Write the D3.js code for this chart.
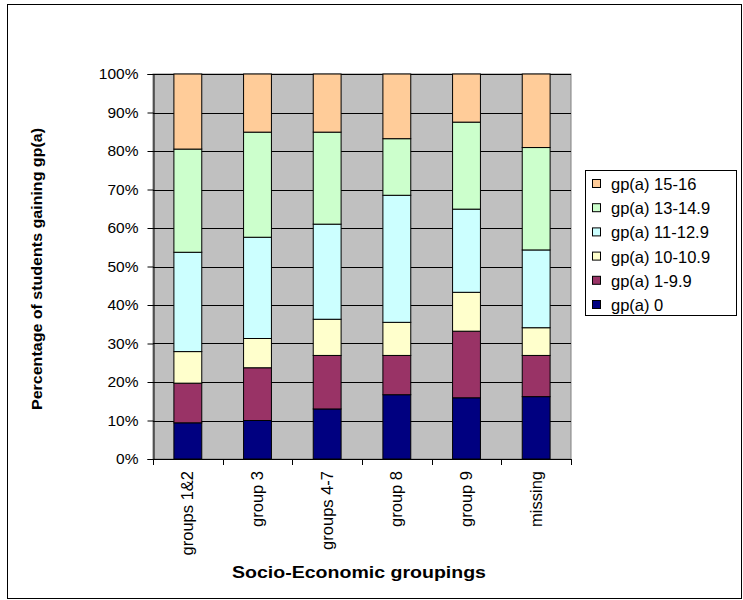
<!DOCTYPE html>
<html>
<head>
<meta charset="utf-8">
<script src="https://cdn.jsdelivr.net/npm/d3@7"></script>
<style>
  body { margin: 0; background: #fff; }
  text { font-family: Arial, "Liberation Sans", sans-serif; fill: #000; }
</style>
</head>
<body>
<div id="chart"></div>
<script>
var width = 743,
    height = 600;

// categories along the x axis
var categories = ["groups 1&2", "group 3", "groups 4-7", "group 8", "group 9", "missing"];

// series, bottom to top (percent of students)
var seriesNames = ["gp(a) 0", "gp(a) 1-9.9", "gp(a) 10-10.9", "gp(a) 11-12.9", "gp(a) 13-14.9", "gp(a) 15-16"];
var gp0      = [9.4, 10.0, 13.0, 16.7, 15.9, 16.2];
var gp1to9   = [10.3, 13.7, 13.9, 10.2, 17.3, 10.7];
var gp10     = [8.2, 7.6, 9.4, 8.6, 10.1, 7.2];
var gp11to12 = [25.8, 26.3, 24.7, 33.0, 21.6, 20.2];
var gp13to14 = [26.8, 27.3, 23.9, 14.7, 22.6, 26.6];
var gp15to16 = [19.5, 15.1, 15.1, 16.8, 12.5, 19.1];

var yTicks = [0, 0.1, 0.2, 0.3, 0.4, 0.5, 0.6, 0.7, 0.8, 0.9, 1];

var seriesColors = ["#000080", "#993366", "#FFFFCC", "#CCFFFF", "#CCFFCC", "#FFCC99"];

var seriesValues = [gp0, gp1to9, gp10, gp11to12, gp13to14, gp15to16];

// table for d3.stack
var rows = categories.map(function (c, i) {
    var r = { category: c };
    seriesNames.forEach(function (s, j) { r[s] = seriesValues[j][i]; });
    return r;
});

var stacked = d3.stack()
    .keys(seriesNames)
    .offset(d3.stackOffsetExpand)(rows);

var plot = { left: 153, right: 571, top: 74, bottom: 459 };

var x = d3.scaleBand()
    .domain(categories)
    .range([plot.left, plot.right])
    .paddingInner(0.6)
    .paddingOuter(0.3);

var y = d3.scaleLinear()
    .domain([0, 1])
    .range([plot.bottom, plot.top]);

var svg = d3.select("#chart").append("svg")
    .attr("width", width)
    .attr("height", height);

// outer frame
svg.append("rect")
    .attr("x", 7.5).attr("y", 4.5)
    .attr("width", 734).attr("height", 594)
    .attr("fill", "#fff")
    .attr("stroke", "#000")
    .attr("stroke-width", 1);

// plot background
svg.append("rect")
    .attr("x", plot.left).attr("y", plot.top)
    .attr("width", plot.right - plot.left)
    .attr("height", plot.bottom - plot.top)
    .attr("fill", "#C0C0C0")
    .attr("stroke", "#808080");

// gridlines
svg.append("g")
    .selectAll("line")
    .data(yTicks.slice(1))
    .enter().append("line")
    .attr("x1", plot.left).attr("x2", plot.right)
    .attr("y1", function (d) { return Math.round(y(d)) + 0.5; })
    .attr("y2", function (d) { return Math.round(y(d)) + 0.5; })
    .attr("stroke", "#000")
    .attr("stroke-width", 1);

// bars
svg.append("g")
    .selectAll("g")
    .data(stacked)
    .enter().append("g")
    .attr("fill", function (d, i) { return seriesColors[i]; })
    .selectAll("rect")
    .data(function (d) { return d; })
    .enter().append("rect")
    .attr("x", function (d) { return x(d.data.category); })
    .attr("width", x.bandwidth())
    .attr("y", function (d) { return y(d[1]); })
    .attr("height", function (d) { return y(d[0]) - y(d[1]); })
    .attr("stroke", "#000")
    .attr("stroke-width", 1);

// y axis
var yAxis = d3.axisLeft(y)
    .tickValues(yTicks)
    .tickSize(6)
    .tickPadding(9)
    .tickFormat(d3.format(".0%"));

var yg = svg.append("g")
    .attr("transform", "translate(" + (plot.left + 0.5) + ",0)")
    .call(yAxis);
yg.select(".domain").attr("stroke", "#000");
yg.selectAll(".tick line").attr("stroke", "#000");
yg.selectAll(".tick text")
    .style("font-size", "15.5px")
    .attr("fill", "#000");

// x axis line with boundary ticks
var xg = svg.append("g");
xg.append("line")
    .attr("x1", plot.left).attr("x2", plot.right)
    .attr("y1", plot.bottom + 0.5).attr("y2", plot.bottom + 0.5)
    .attr("stroke", "#000");
var bounds = categories.map(function (c) { return x(c) - x.step() * x.paddingOuter(); });
bounds.push(plot.right);
xg.selectAll(".xtick")
    .data(bounds)
    .enter().append("line")
    .attr("x1", function (d) { return Math.round(d) + 0.5; })
    .attr("x2", function (d) { return Math.round(d) + 0.5; })
    .attr("y1", plot.bottom).attr("y2", plot.bottom + 6)
    .attr("stroke", "#000");

// category labels, rotated
xg.selectAll(".xlabel")
    .data(categories)
    .enter().append("text")
    .attr("transform", function (d) {
        return "translate(" + (x(d) + x.bandwidth() / 2 + 5.5) + "," + (plot.bottom + 12) + ") rotate(-90)";
    })
    .attr("text-anchor", "end")
    .style("font-size", "16.5px")
    .text(function (d) { return d; });

// axis titles
svg.append("text")
    .attr("x", 232).attr("y", 578)
    .attr("textLength", 254)
    .attr("lengthAdjust", "spacingAndGlyphs")
    .style("font-size", "16px")
    .style("font-weight", "bold")
    .text("Socio-Economic groupings");

svg.append("text")
    .attr("transform", "translate(42,410) rotate(-90)")
    .attr("textLength", 282)
    .attr("lengthAdjust", "spacingAndGlyphs")
    .style("font-size", "15px")
    .style("font-weight", "bold")
    .text("Percentage of students gaining gp(a)");

// legend
var legend = svg.append("g");
legend.append("rect")
    .attr("x", 585.5).attr("y", 170.5)
    .attr("width", 151).attr("height", 145)
    .attr("fill", "#fff")
    .attr("stroke", "#000");

var legendItems = seriesNames.slice().reverse();
var legendColors = seriesColors.slice().reverse();
var li = legend.selectAll(".item")
    .data(legendItems)
    .enter().append("g")
    .attr("transform", function (d, i) { return "translate(0," + (184 + i * 24.2) + ")"; });
li.append("rect")
    .attr("x", 592.5).attr("y", -4.5)
    .attr("width", 8).attr("height", 8)
    .attr("fill", function (d, i) { return legendColors[i]; })
    .attr("stroke", "#000");
li.append("text")
    .attr("x", 611).attr("y", 6)
    .style("font-size", "16.5px")
    .text(function (d) { return d; });
</script>
</body>
</html>
